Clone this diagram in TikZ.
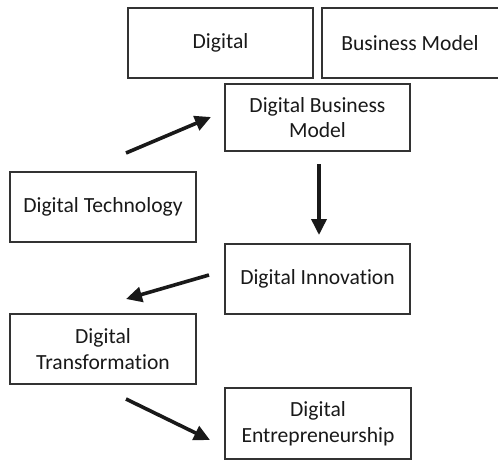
\documentclass[tikz,border=0pt]{standalone}
\usepackage{fontspec}
\setmainfont{Carlito}[Ligatures={NoCommon}]
\usetikzlibrary{arrows.meta}
\begin{document}
\begin{tikzpicture}[x=1pt,y=-1pt,
  boxstyle/.style={draw=black!80,line width=1.3pt,font=\fontsize{21.6}{25.5}\selectfont,align=center,text=black!90},
  arr/.style={line width=3.6pt,draw=black!90,-{Triangle[length=16pt,width=15pt]}}]
\useasboundingbox (0,0) rectangle (498,461);
\draw[boxstyle] (128,8) rectangle (313,78) node[midway,draw=none] (d) {Digital};
\draw[boxstyle] (322,8) rectangle (500,78) node[midway,draw=none,xshift=-1pt] (bm) {Business Model};
\draw[boxstyle] (225,84) rectangle (410,151) node[midway,draw=none] (dbm) {Digital Business\\Model};
\draw[boxstyle] (10,172) rectangle (196,242) node[midway,draw=none] (dt) {Digital Technology};
\draw[boxstyle] (225,244) rectangle (410,314) node[midway,draw=none] (di) {Digital Innovation};
\draw[boxstyle] (10,314) rectangle (196,384) node[midway,draw=none] (dtr) {Digital\\Transformation};
\draw[boxstyle] (225,388) rectangle (411,459) node[midway,draw=none] (de) {Digital\\Entrepreneurship};
\coordinate (a1s) at (126,153);
\coordinate (a1e) at (211,117);
\coordinate (a2s) at (319,164);
\coordinate (a2e) at (319,235);
\coordinate (a3s) at (209,275);
\coordinate (a3e) at (126,299);
\coordinate (a4s) at (126,399);
\coordinate (a4e) at (210,440);
\draw[arr] (a1s) -- (a1e);
\draw[arr] (a2s) -- (a2e);
\draw[arr] (a3s) -- (a3e);
\draw[arr] (a4s) -- (a4e);
\end{tikzpicture}
\end{document}
